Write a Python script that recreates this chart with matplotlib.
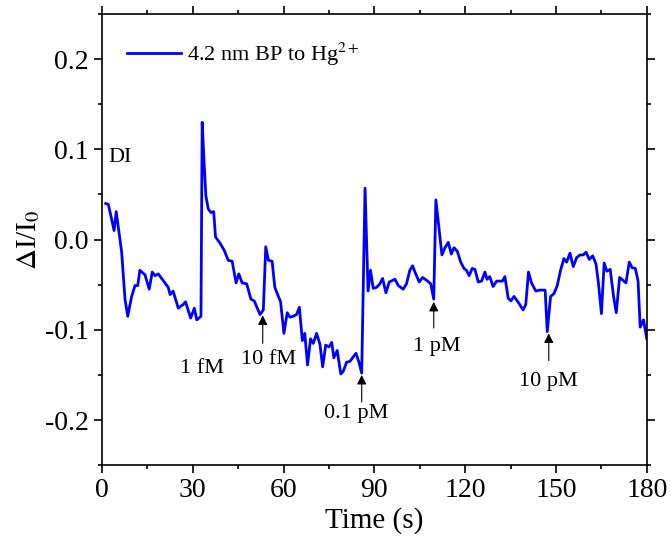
import numpy as np
import matplotlib
matplotlib.use("Agg")
import matplotlib.pyplot as plt

plt.rcParams['font.family'] = ['Liberation Serif', 'DejaVu Serif']
plt.rcParams['mathtext.fontset'] = 'stix'

# time (s) and response
time = [1.2, 2.1, 4.0, 4.7, 6.5, 7.6, 8.5, 9.8, 10.9, 11.8, 12.5, 14.2, 15.6, 16.6, 17.5,
        18.6, 20.8, 21.9, 22.5, 23.5, 25.2, 26.8, 27.6, 29.3, 30.5, 31.3, 32.7, 33.1, 33.8,
        34.3, 35.1, 36.0, 36.9, 37.5, 39.0, 40.4, 41.7, 43.0, 44.3, 45.2, 46.3, 47.8, 49.2,
        50.3, 52.2, 53.3, 54.1, 55.0, 56.2, 57.1, 59.0, 60.1, 61.2, 62.1, 63.2, 64.3, 65.2,
        66.2, 67.0, 67.9, 68.9, 69.8, 70.9, 72.0, 72.9, 73.9, 75.0, 75.9, 76.6, 77.7, 78.9,
        79.7, 80.8, 81.9, 82.8, 83.9, 84.9, 85.8, 86.9, 87.9, 88.7, 89.6, 90.7, 91.8, 92.7,
        93.8, 94.9, 96.8, 97.9, 99.5, 100.6, 101.7, 102.6, 103.4, 104.8, 105.9, 107.2, 108.6,
        109.6, 110.3, 111.1, 112.3, 113.3, 114.4, 115.4, 116.3, 117.4, 118.5, 119.6, 120.4,
        121.3, 122.3, 123.2, 124.3, 125.4, 126.5, 127.2, 128.1, 129.2, 130.4, 131.4, 132.3,
        133.1, 134.2, 135.1, 136.1, 137.2, 138.0, 139.1, 140.0, 140.9, 141.9, 143.3, 144.6,
        146.4, 147.1, 148.2, 149.3, 150.4, 151.5, 152.6, 153.5, 154.6, 155.7, 156.8, 157.9,
        159.0, 159.9, 161.0, 162.1, 163.2, 164.0, 165.0, 165.9, 166.8, 167.9, 169.0, 169.9,
        171.0, 172.1, 173.1, 174.2, 175.1, 176.2, 177.1, 177.8, 178.9, 180.0]
response = [0.040, 0.039, 0.010, 0.031, -0.014, -0.066, -0.085, -0.063, -0.051, -0.051,
            -0.034, -0.039, -0.055, -0.036, -0.040, -0.038, -0.048, -0.053, -0.061, -0.057,
            -0.076, -0.072, -0.069, -0.087, -0.076, -0.089, -0.085, 0.130, 0.081, 0.049,
            0.034, 0.030, 0.031, 0.003, -0.004, -0.012, -0.023, -0.024, -0.048, -0.038,
            -0.048, -0.049, -0.066, -0.068, -0.083, -0.078, -0.008, -0.023, -0.024, -0.053,
            -0.069, -0.104, -0.081, -0.086, -0.085, -0.083, -0.075, -0.112, -0.104, -0.139,
            -0.110, -0.115, -0.104, -0.116, -0.141, -0.117, -0.119, -0.114, -0.131, -0.123,
            -0.149, -0.146, -0.136, -0.135, -0.131, -0.126, -0.136, -0.148, 0.057, -0.057,
            -0.034, -0.054, -0.053, -0.049, -0.043, -0.059, -0.047, -0.044, -0.051, -0.055,
            -0.049, -0.034, -0.029, -0.036, -0.047, -0.042, -0.045, -0.049, -0.066, 0.044,
            0.020, -0.017, -0.009, -0.003, -0.016, -0.009, -0.013, -0.025, -0.032, -0.034,
            -0.040, -0.032, -0.033, -0.047, -0.046, -0.036, -0.044, -0.041, -0.052, -0.046,
            -0.046, -0.046, -0.041, -0.065, -0.068, -0.063, -0.068, -0.072, -0.078, -0.072,
            -0.036, -0.048, -0.057, -0.056, -0.056, -0.102, -0.063, -0.060, -0.051, -0.034,
            -0.021, -0.025, -0.015, -0.030, -0.020, -0.017, -0.017, -0.014, -0.022, -0.018,
            -0.027, -0.048, -0.082, -0.026, -0.035, -0.033, -0.063, -0.081, -0.042, -0.045,
            -0.048, -0.025, -0.031, -0.032, -0.046, -0.097, -0.089, -0.110]

# additions: label, arrow x, arrow tip y, arrow tail y, label x, label y
add_labels = ['10 fM', '0.1 pM', '1 pM', '10 pM']
arrow_x = [53.1, 85.8, 109.6, 147.6]
arrow_tip = [-0.084, -0.150, -0.069, -0.104]
arrow_tail = [-0.115, -0.180, -0.098, -0.134]
label_x = [54.9, 84.1, 110.5, 147.4]
label_y = [-0.133, -0.193, -0.119, -0.157]

fig = plt.figure(figsize=(6.71, 5.39), dpi=100)
ax = fig.add_axes([0.152, 0.137, 0.812, 0.837])

ax.plot(time, response, color='#0000FF', lw=2, label='4.2 nm BP to Hg$^{2+}$')

ax.text(2.0, 0.0905, 'DI', fontsize=16, va='center', ha='left')
ax.text(32.9, -0.143, '1 fM', fontsize=16, va='center', ha='center')
for lab, ax_x, tip, tail, lx, ly in zip(add_labels, arrow_x, arrow_tip, arrow_tail, label_x, label_y):
    ax.annotate('', xy=(ax_x, tip), xytext=(ax_x, tail),
                arrowprops=dict(arrowstyle='-|>', color='k', lw=0.8, mutation_scale=14,
                                shrinkA=0, shrinkB=0))
    ax.text(lx, ly, lab, fontsize=16, va='center', ha='center')

ax.set_xlim(0, 180)
ax.set_ylim(-0.25, 0.25)
ax.set_xticks(np.arange(0, 181, 30))
ax.set_xticks(np.arange(15, 180, 30), minor=True)
ax.set_yticks([-0.2, -0.1, 0.0, 0.1, 0.2])
ax.set_yticklabels(['-0.2', '-0.1', '0.0', '0.1', '0.2'])
ax.set_yticks(np.arange(-0.25, 0.26, 0.1), minor=True)
ax.tick_params(which='both', direction='out', top=True, right=True, labelsize=20, width=1.2)
ax.tick_params(which='major', length=6)
ax.tick_params(which='minor', length=3)
for s in ax.spines.values():
    s.set_linewidth(1.2)

ax.set_xlabel('Time (s)', fontsize=21, labelpad=3)
ax.set_ylabel(r'$\Delta$I/I$_0$', fontsize=21, labelpad=2)

ax.legend(loc='upper left', bbox_to_anchor=(0.01, 0.985), frameon=False, fontsize=16,
          handlelength=2.4, handletextpad=0.3)

fig.savefig('out.png', dpi=100)
